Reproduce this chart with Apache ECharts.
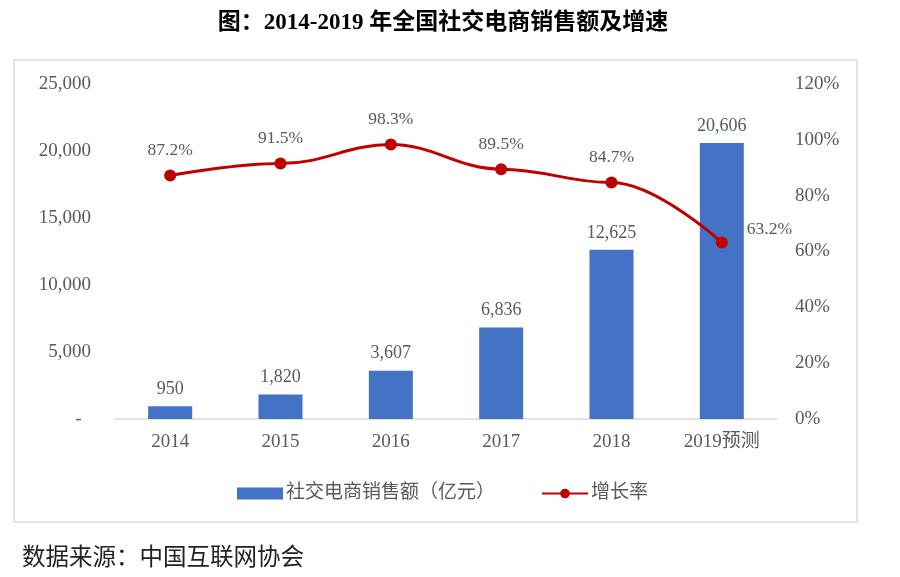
<!DOCTYPE html>
<html>
<head>
<meta charset="utf-8">
<script src="https://cdn.jsdelivr.net/npm/echarts@6/dist/echarts.min.js"></script>
<style>
  html, body {margin: 0; padding: 0; background: #fff;}
  #chart {width: 900px; height: 577px;}
</style>
</head>
<body>
<div id="chart"></div>
<script>
// 数据
var years = ['2014', '2015', '2016', '2017', '2018', '2019预测'];
var sales = [950, 1820, 3607, 6836, 12625, 20606];
var growth = [87.2, 91.5, 98.3, 89.5, 84.7, 63.2];

var FONT = "'Liberation Serif', 'Noto Sans CJK SC', serif";
var GREY = '#595959';

var myChart = echarts.init(document.getElementById('chart'));
myChart.setOption({
    animation: false,
    title: {
        text: '图：2014-2019 年全国社交电商销售额及增速',
        left: 438,
        textAlign: 'center',
        top: 7,
        textStyle: {fontFamily: FONT, fontSize: 23, fontWeight: 'bold', color: '#000'}
    },
    graphic: [{
        type: 'rect',
        shape: {x: 14, y: 60, width: 843, height: 462},
        style: {fill: 'none', stroke: '#d9d9d9', lineWidth: 1.5},
        silent: true
    }, {
        type: 'text',
        left: 22,
        top: 547,
        style: {text: '数据来源：中国互联网协会', fontFamily: FONT, fontSize: 23.5, fill: '#222'}
    }],
    legend: {
        left: 232,
        top: 479,
        itemWidth: 46,
        itemHeight: 12,
        itemGap: 46,
        textStyle: {fontFamily: FONT, fontSize: 19, color: GREY, padding: [0, 0, 0, -2]},
        data: [
            {name: '社交电商销售额（亿元）', icon: 'rect'},
            {name: '增长率'}
        ]
    },
    grid: {left: 115, right: 123, top: 84, bottom: 158},
    xAxis: {
        type: 'category',
        data: years,
        axisTick: {show: false},
        axisLine: {lineStyle: {color: '#d9d9d9', width: 1.5}},
        axisLabel: {fontFamily: FONT, fontSize: 19, color: GREY, margin: 14}
    },
    yAxis: [{
        type: 'value',
        min: 0,
        max: 25000,
        interval: 5000,
        splitLine: {show: false},
        axisLabel: {
            fontFamily: FONT, fontSize: 19, color: GREY, margin: 24,
            formatter: function (v) {
                return v === 0 ? '-  ' : v.toLocaleString('en-US');
            }
        }
    }, {
        type: 'value',
        min: 0,
        max: 120,
        interval: 20,
        splitLine: {show: false},
        axisLabel: {
            fontFamily: FONT, fontSize: 19, color: GREY, margin: 18,
            formatter: '{value}%'
        }
    }],
    series: [{
        name: '社交电商销售额（亿元）',
        type: 'bar',
        data: sales,
        barWidth: 44,
        itemStyle: {color: '#4472C4'},
        label: {
            show: true,
            position: 'top',
            distance: 8,
            fontFamily: FONT,
            fontSize: 18,
            color: GREY,
            formatter: function (p) { return p.value.toLocaleString('en-US'); }
        }
    }, {
        name: '增长率',
        type: 'line',
        yAxisIndex: 1,
        data: growth.map(function (v, i) {
            return i === growth.length - 1
                ? {value: v, label: {position: 'right', distance: 19, offset: [0, -13]}}
                : v;
        }),
        smooth: 0.4,
        smoothMonotone: 'x',
        symbol: 'circle',
        symbolSize: 12,
        lineStyle: {color: '#C00000', width: 3},
        itemStyle: {color: '#C00000'},
        label: {
            show: true,
            position: 'top',
            distance: 10,
            fontFamily: FONT,
            fontSize: 17.5,
            color: GREY,
            formatter: '{c}%'
        }
    }]
});
</script>
</body>
</html>
